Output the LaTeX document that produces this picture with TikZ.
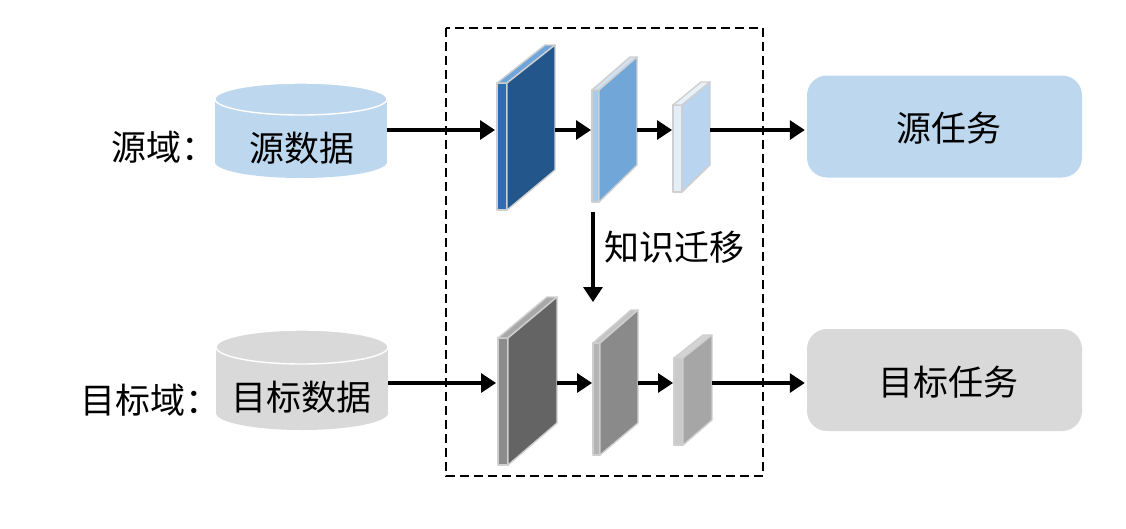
\documentclass[tikz,border=0pt]{standalone}
\usepackage{fontspec}
\newfontfamily\cjk{Noto Sans CJK SC}
\usetikzlibrary{arrows.meta}
\definecolor{dbblue}{HTML}{BDD7EE}
\definecolor{dbgray}{HTML}{D9D9D9}
\definecolor{edgegray}{HTML}{CFCFCF}
\definecolor{tAf}{HTML}{23568A}\definecolor{tAs}{HTML}{2E6DB0}\definecolor{tAt}{HTML}{6EA6DC}
\definecolor{tBf}{HTML}{71A6D8}\definecolor{tBs}{HTML}{A9CBEA}\definecolor{tBt}{HTML}{CFE1F3}
\definecolor{tCf}{HTML}{B9D4EE}\definecolor{tCs}{HTML}{E3EEF8}\definecolor{tCt}{HTML}{E8F1FA}
\definecolor{bAf}{HTML}{646464}\definecolor{bAs}{HTML}{8C8C8C}\definecolor{bAt}{HTML}{A8A8A8}
\definecolor{bBf}{HTML}{8A8A8A}\definecolor{bBs}{HTML}{B4B4B4}\definecolor{bBt}{HTML}{C4C4C4}
\definecolor{bCf}{HTML}{A6A6A6}\definecolor{bCs}{HTML}{CACACA}\definecolor{bCt}{HTML}{D4D4D4}
\newcommand\drawslab[6]{%
  % #1 = x0/x1/x2 ; #2 = yTL ; #3 = yTR ; #4 = yBL ; #5 = yBR ; #6 = colour prefix
  \foreach \xa/\xb/\xc in {#1}{%
    \pgfmathsetmacro\xd{\xc-(\xb-\xa)}%
    \filldraw[slabedge,fill=#6s] (\xa,#2) -- (\xb,#2) -- (\xb,#4) -- (\xa,#4) -- cycle;
    \filldraw[slabedge,fill=#6t] (\xa,#2) -- (\xb,#2) -- (\xc,#3) -- (\xd,#3) -- cycle;
    \filldraw[slabedge,fill=#6f] (\xb,#2) -- (\xc,#3) -- (\xc,#5) -- (\xb,#4) -- cycle;
  }%
}
\tikzset{
  slabedge/.style={draw=edgegray,line width=1.4pt,line join=round},
  arr/.style={line width=3.3pt,-{Triangle[length=15pt,width=19pt]}},
  txt/.style={font=\cjk\fontsize{35}{40}\selectfont,inner sep=0pt,text=black},
  taskbox/.style={rounded corners=20pt,minimum width=275pt,minimum height=102pt,inner sep=0pt,draw=none},
  dbbox/.style={minimum width=172pt,minimum height=95pt,inner sep=0pt,draw=none},
}
\begin{document}
\begin{tikzpicture}[x=1pt,y=-1pt]
\useasboundingbox (0,0) rectangle (1126,528);
% dashed frame
\draw[line width=2.4pt,dash pattern=on 9pt off 5pt] (446,28) rectangle (763,476);
% top cylinder
\fill[dbblue] (215,99) rectangle (387,162);
\fill[dbblue] (301,162) ellipse [x radius=86pt,y radius=16pt];
\fill[dbblue] (301,99) ellipse [x radius=86pt,y radius=16pt];
\draw[white,line width=1.4pt] (301,99) ellipse [x radius=86pt,y radius=16pt];
\node[dbbox] (srcdb) at (301,130) {};
\node[txt] (srcdbtxt) at (301.5,148) {源数据};
% bottom cylinder
\fill[dbgray] (216,347) rectangle (388,413);
\fill[dbgray] (302,413) ellipse [x radius=86pt,y radius=17pt];
\fill[dbgray] (302,347) ellipse [x radius=86pt,y radius=17pt];
\draw[white,line width=1.4pt] (302,347) ellipse [x radius=86pt,y radius=17pt];
\node[dbbox] (tgtdb) at (302,383) {};
\node[txt] (tgtdbtxt) at (301.5,397) {目标数据};
% domain labels
\node[txt,anchor=west] (srcdom) at (111,147) {源域：};
\node[txt,anchor=west] (tgtdom) at (80,400) {目标域：};
% task boxes
\node[taskbox,fill=dbblue] (srctask) at (944.5,126.5) {};
\node[txt] at (948.5,128) {源任务};
\node[taskbox,fill=dbgray] (tgttask) at (944.5,380) {};
\node[txt] at (948,382) {目标任务};
% top slabs
\drawslab{497/507/555}{83}{45}{210}{170}{tA}
\drawslab{592/599/637}{90}{57}{202}{165}{tB}
\drawslab{673/682/710}{105}{82}{192}{165}{tC}
% bottom slabs
\drawslab{498/508/557}{338}{297}{465}{423}{bA}
\drawslab{593/600/638}{343}{310}{455}{423}{bB}
\drawslab{674/683/712}{358}{335}{445}{420}{bC}
% connector points
\coordinate (tAin) at (495,130); \coordinate (tAout) at (555,130);
\coordinate (tBin) at (591,130); \coordinate (tBout) at (637,130);
\coordinate (tCin) at (672,130); \coordinate (tCout) at (710,130);
\coordinate (bAin) at (496,383); \coordinate (bAout) at (557,383);
\coordinate (bBin) at (592,383); \coordinate (bBout) at (638,383);
\coordinate (bCin) at (673,383); \coordinate (bCout) at (712,383);
\coordinate (kfrom) at (593,212); \coordinate (kto) at (593,302);
% arrows
\draw[arr] (srcdb.east) -- (tAin);
\draw[arr] (tAout) -- (tBin);
\draw[arr] (tBout) -- (tCin);
\draw[arr] (tCout) -- ([xshift=-2pt]tCout -| srctask.west);
\draw[arr] (tgtdb.east) -- (bAin);
\draw[arr] (bAout) -- (bBin);
\draw[arr] (bBout) -- (bCin);
\draw[arr] (bCout) -- ([xshift=-2pt]bCout -| tgttask.west);
\draw[arr] (kfrom) -- (kto);
\node[txt] (klabel) at (674,247) {知识迁移};
\end{tikzpicture}
\end{document}
